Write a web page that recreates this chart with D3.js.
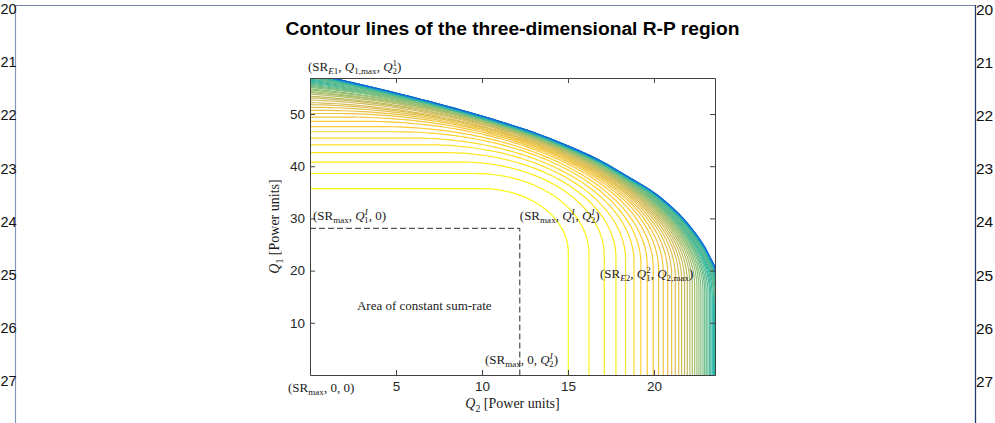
<!DOCTYPE html>
<html><head><meta charset="utf-8">
<script src="https://cdn.jsdelivr.net/npm/d3@7"></script>
<style>body{margin:0;background:#fff}svg{display:block}</style>
</head><body>
<svg id="chart" width="995" height="423"></svg>
<script>
// ---------------- data ----------------
const xTicks = [5, 10, 15, 20];
const yTicks = [10, 20, 30, 40, 50];
// each contour: Q1 where it meets the Q1 axis, Q2 where it meets the Q2 axis
const contourQ1 = [35.7,38.6,40.8,42.6,44.1,45.4,46.6,47.6,48.6,49.4,50.1,50.7,51.3,51.8,52.2,52.7,53.1,53.4,53.8,54.1,54.3,54.6,54.8,55.1,55.3,55.5,55.7,55.9,56.1,56.3,56.5,56.7,56.9,57.1,57.3,57.5];
const contourQ2 = [15.02,16.22,17.11,17.79,18.35,18.84,19.24,19.61,19.96,20.27,20.54,20.80,21.03,21.24,21.44,21.61,21.78,21.94,22.09,22.23,22.37,22.50,22.62,22.73,22.85,22.95,23.04,23.14,23.24,23.31,23.39,23.47,23.53,23.59,23.65,23.70];
// outer boundary of the region (Q2, Q1)
const boundaryQ2 = [0,1.74,3.5,5,7.5,10,11.05,12.98,14.92,16.86,18.65,19.77,20.54,21.32,21.9,22.48,22.97,23.35,23.55,23.75,23.95,24.0];
const boundaryQ1 = [58.0,56.65,55.3,54.1,52.0,49.7,48.66,46.6,44.1,41.2,37.8,35.6,33.7,31.4,29.4,27.0,24.6,22.2,20.8,17,10,0];
// bend centre of innermost contour and of the boundary (Q2, Q1)
const innerBend = [10, 23.4];
const outerBend = [-12, 14];
// constant sum-rate corner (Q2^I, Q1^I)
const constCorner = [12.2, 28.1];
const levelCount = 60;
const lineNumbers = [20,21,22,23,24,25,26,27];

// ---------------- layout ----------------
const svg = d3.select("#chart");
const W = 995, H = 423;
const plot = {left: 310, right: 715, top: 78, bottom: 375};
const x = d3.scaleLinear().domain([0, 23.55]).range([plot.left, plot.right]);
const y = d3.scaleLinear().domain([0, 56.9]).range([plot.bottom, plot.top]);

const parula = d3.scaleLinear()
  .domain([0, .125, .25, .375, .5, .625, .75, .875, 1])
  .range(["#352a87","#0f5cdd","#1481d6","#06a4ca","#2eb7a4","#87bf77","#d1bb59","#fec832","#f9fb0e"])
  .interpolate(d3.interpolateRgb);

// page frame + line numbers
svg.append("line").attr("x1",16).attr("x2",975).attr("y1",5.5).attr("y2",5.5).attr("stroke","#6f86ab").attr("stroke-width",1.2);
svg.append("line").attr("x1",15.5).attr("x2",15.5).attr("y1",5).attr("y2",H).attr("stroke","#8596b8").attr("stroke-width",1.2);
svg.append("line").attr("x1",975.5).attr("x2",975.5).attr("y1",5).attr("y2",H).attr("stroke","#213d6c").attr("stroke-width",1.3);
lineNumbers.forEach((n,i)=>{
  const yy = 9 + 53.2*i;
  svg.append("text").attr("x",0.5).attr("y",yy).attr("text-anchor","start").attr("dominant-baseline","central")
    .attr("font-family","'Liberation Sans',Arial,sans-serif").attr("font-size",14.5).attr("fill","#111").text(n);
  svg.append("text").attr("x",976).attr("y",yy).attr("text-anchor","start").attr("dominant-baseline","central")
    .attr("font-family","'Liberation Sans',Arial,sans-serif").attr("font-size",15.5).attr("fill","#111").text(n);
});

// title
svg.append("text").attr("x",(plot.left+plot.right)/2).attr("y",35).attr("text-anchor","middle")
  .attr("font-family","'Liberation Sans',Arial,Helvetica,sans-serif").attr("font-weight","bold").attr("font-size",19.2)
  .attr("fill","#000").text("Contour lines of the three-dimensional R-P region");

// clips
const defs = svg.append("defs");
defs.append("clipPath").attr("id","plotClip").append("rect")
  .attr("x",plot.left).attr("y",plot.top).attr("width",plot.right-plot.left).attr("height",plot.bottom-plot.top);
const regionPts = boundaryQ2.map((q,i)=>[q,boundaryQ1[i]]);
const regionLine = d3.line().x(d=>x(d[0])).y(d=>y(d[1])).curve(d3.curveCatmullRom);
defs.append("clipPath").attr("id","regionClip").append("path")
  .attr("d", regionLine(regionPts) + `L${x(0)},${y(0)}Z`);

const gPlot = svg.append("g").attr("clip-path","url(#plotClip)");
const gReg = gPlot.append("g").attr("clip-path","url(#regionClip)");

// contour geometry: horizontal run, elliptical bend, vertical run
function contourPath(a, b, w) {
  const s = w*w;
  const c = innerBend[0] + (outerBend[0]-innerBend[0])*s;
  const d = innerBend[1] + (outerBend[1]-innerBend[1])*s;
  const rx = b - c;
  let phi0 = 0, ry;
  if (c < 0) { phi0 = Math.asin(-c/rx); ry = (a-d)/Math.cos(phi0); } else ry = a - d;
  const pts = [];
  if (c > 0) pts.push([0, a]);
  const n = 90;
  for (let k = 0; k <= n; k++) {
    const p = phi0 + (Math.PI/2 - phi0)*k/n;
    pts.push([c + rx*Math.sin(p), d + ry*Math.cos(p)]);
  }
  pts.push([b, 0]);
  return pts;
}
const lineGen = d3.line().x(d=>x(d[0])).y(d=>y(d[1]));
const bMin = contourQ2[0], bMax = 23.85;
const contours = contourQ1.map((a,i)=>({a, b: contourQ2[i], i}));
gReg.selectAll("path.ct").data(contours.slice().reverse()).join("path").attr("class","ct")
  .attr("d", d => lineGen(contourPath(d.a, d.b, (d.b-bMin)/(bMax-bMin))))
  .attr("fill","none").attr("stroke", d => parula(1 - d.i/levelCount)).attr("stroke-width",1.2);

// crowded low levels along the boundary
[[12,"#87bf77",0.55],[7,"#2eb7a4",0.9],[3.4,"#1481d6",1],[1.4,"#0f5cdd",1]].forEach(([sw,col,op])=>{
  gReg.append("path").attr("d", regionLine(regionPts)).attr("fill","none")
    .attr("stroke",col).attr("stroke-opacity",op).attr("stroke-width",sw);
});

// constant sum-rate box
gPlot.append("path")
  .attr("d", lineGen([[0,constCorner[1]],[constCorner[0],constCorner[1]],[constCorner[0],0]]))
  .attr("fill","none").attr("stroke","#2b2b2b").attr("stroke-width",1).attr("stroke-dasharray","6,3");

// axes
const axisCol = "#404040";
function styleAxis(g){
  g.selectAll("path.domain").attr("stroke",axisCol).attr("stroke-width",1);
  g.selectAll(".tick line").attr("stroke",axisCol);
  g.selectAll(".tick text").attr("font-family","'Liberation Sans',Arial,Helvetica,sans-serif").attr("font-size",13.5).attr("fill","#262626");
}
svg.append("g").attr("transform",`translate(0,${plot.bottom})`)
  .call(d3.axisBottom(x).tickValues(xTicks).tickSizeInner(-5).tickSizeOuter(0).tickPadding(6)).call(styleAxis);
svg.append("g").attr("transform",`translate(0,${plot.top})`)
  .call(d3.axisTop(x).tickValues(xTicks).tickSizeInner(-5).tickSizeOuter(0).tickFormat("")).call(styleAxis);
svg.append("g").attr("transform",`translate(${plot.left},0)`)
  .call(d3.axisLeft(y).tickValues(yTicks).tickSizeInner(-5).tickSizeOuter(0).tickPadding(5)).call(styleAxis);
svg.append("g").attr("transform",`translate(${plot.right},0)`)
  .call(d3.axisRight(y).tickValues(yTicks).tickSizeInner(-5).tickSizeOuter(0).tickFormat("")).call(styleAxis);
svg.selectAll(".domain").attr("fill","none");

// math-style labels
const serif = "'Liberation Serif','Times New Roman',serif";
function mathLabel(px, py, segs, size, anchor, rotate) {
  const t = svg.append("text").attr("x",px).attr("y",py).attr("font-family",serif).attr("font-size",size)
    .attr("fill","#1a1a1a").attr("text-anchor",anchor||"start");
  if (rotate) t.attr("transform",`rotate(${rotate},${px},${py})`);
  let shift = 0;
  segs.forEach(s=>{
    const ts = t.append("tspan").text(s.t);
    const target = s.sub ? size*0.25 : s.sup ? -size*0.38 : 0;
    ts.attr("dy", target - shift); shift = target;
    if (s.sub || s.sup) ts.attr("font-size", size*0.7);
    if (s.it) ts.attr("font-style","italic");
    if (s.dx) ts.attr("dx", s.dx);
  });
  return t;
}
const sz = 13;
const back = n => -n*sz*0.7*0.5;
const SRmax = [{t:"(SR"},{t:"max",sub:true}];
// (SR_E1, Q_1,max, Q_2^1)
mathLabel(x(-0.12), y(58.2), [{t:"(SR"},{t:"E",sub:true,it:true},{t:"1",sub:true},{t:", "},{t:"Q",it:true},{t:"1,max",sub:true},{t:", "},{t:"Q",it:true},{t:"1",sup:true},{t:"2",sub:true,dx:back(1)},{t:")"}], sz);
// (SR_max, Q_1^I, 0)
mathLabel(x(0.17), y(29.7), [...SRmax,{t:", "},{t:"Q",it:true},{t:"I",sup:true,it:true},{t:"1",sub:true,dx:back(0.8)},{t:", 0)"}], sz);
// (SR_max, Q_1^I, Q_2^I)
mathLabel(x(12.2), y(29.7), [...SRmax,{t:", "},{t:"Q",it:true},{t:"I",sup:true,it:true},{t:"1",sub:true,dx:back(0.8)},{t:", "},{t:"Q",it:true},{t:"I",sup:true,it:true},{t:"2",sub:true,dx:back(0.8)},{t:")"}], sz);
// (SR_E2, Q_1^2, Q_2,max)
mathLabel(x(16.86), y(18.6), [{t:"(SR"},{t:"E",sub:true,it:true},{t:"2",sub:true},{t:", "},{t:"Q",it:true},{t:"2",sup:true},{t:"1",sub:true,dx:back(1)},{t:", "},{t:"Q",it:true},{t:"2,max",sub:true},{t:")"}], sz);
// Area of constant sum-rate
mathLabel(x(2.73), y(12.45), [{t:"Area of constant sum-rate"}], sz);
// (SR_max, 0, Q_2^I)
mathLabel(x(10.17), y(2.1), [...SRmax,{t:", 0, "},{t:"Q",it:true},{t:"I",sup:true,it:true},{t:"2",sub:true,dx:back(0.8)},{t:")"}], sz);
// (SR_max, 0, 0)
mathLabel(x(-1.28), y(-3.26), [...SRmax,{t:", 0, 0)"}], sz);

// axis titles
mathLabel((plot.left+plot.right)/2, 408, [{t:"Q",it:true},{t:"2",sub:true},{t:" [Power units]"}], 14, "middle");
mathLabel(279, (plot.top+plot.bottom)/2, [{t:"Q",it:true},{t:"1",sub:true},{t:" [Power units]"}], 14, "middle", -90);
</script>
</body></html>
